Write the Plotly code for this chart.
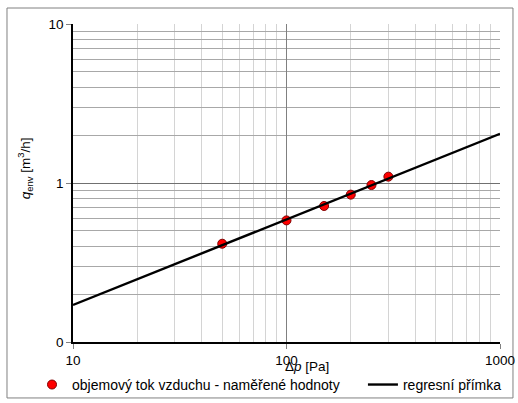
import numpy as np
import plotly.graph_objects as go

# Measured airflow through the building envelope vs. pressure difference
dp_measured = [50, 100, 150, 200, 250, 300]            # Δp [Pa]
q_measured = [0.415, 0.582, 0.717, 0.845, 0.971, 1.096]  # q_env [m3/h]

# Power-law regression q = C * Δp^n, fitted in log-log space
dp_line = [10, 1000]
n_exp, log_c = np.polyfit(np.log10(dp_measured), np.log10(q_measured), 1)
q_line = [10 ** (log_c + n_exp * np.log10(v)) for v in dp_line]

x_ticks = [10, 100, 1000]
x_tick_text = ["10", "100", "1000"]
y_ticks = [0.1, 1, 10]
y_tick_text = ["0", "1", "10"]
x_minor = [20, 30, 40, 50, 60, 70, 80, 90, 200, 300, 400, 500, 600, 700, 800, 900]
y_minor = [0.2, 0.3, 0.4, 0.5, 0.6, 0.7, 0.8, 0.9, 2, 3, 4, 5, 6, 7, 8, 9]

FONT = "Liberation Sans, Arial, sans-serif"

fig = go.Figure()
fig.add_trace(go.Scatter(
    x=dp_measured, y=q_measured, mode="markers",
    name="objemový tok vzduchu - naměřené hodnoty",
    marker=dict(color="#FF0000", size=9, line=dict(color="#800000", width=1)),
    hoverinfo="skip", legend="legend",
))
fig.add_trace(go.Scatter(
    x=dp_line, y=q_line, mode="lines",
    name="regresní přímka",
    line=dict(color="#000000", width=2.4),
    hoverinfo="skip", legend="legend2",
))

legend_common = dict(
    orientation="h", yanchor="middle", xanchor="left",
    xref="paper", yref="paper", y=-0.135,
    font=dict(family=FONT, size=14), bgcolor="rgba(0,0,0,0)",
)

fig.update_layout(
    width=518, height=403,
    margin=dict(l=73, r=18, t=24, b=61, autoexpand=False),
    paper_bgcolor="white", plot_bgcolor="white",
    font=dict(family=FONT, size=12, color="#000000"),
    showlegend=True,
    legend=dict(x=-0.096, **legend_common),
    legend2=dict(x=0.679, **legend_common),
    xaxis=dict(
        type="log", range=[1, 3],
        tickvals=x_ticks, ticktext=x_tick_text,
        ticks="outside", ticklen=5, tickcolor="#808080",
        showline=True, linecolor="#000000", linewidth=1.5,
        showgrid=True, gridcolor="#808080", gridwidth=1,
        minor=dict(tickvals=x_minor, showgrid=True, gridcolor="#d4d4d4", gridwidth=1, ticks=""),
        zeroline=False,
        tickfont=dict(size=13.5),
    ),
    yaxis=dict(
        type="log", range=[-1, 1],
        tickvals=y_ticks, ticktext=y_tick_text,
        ticks="outside", ticklen=5, tickcolor="#808080",
        showline=True, linecolor="#000000", linewidth=1.5,
        showgrid=True, gridcolor="#707070", gridwidth=1,
        minor=dict(tickvals=y_minor, showgrid=True, gridcolor="#a8a8a8", gridwidth=1, ticks=""),
        zeroline=False,
        tickfont=dict(size=13.5),
    ),
)

# Axis titles
fig.add_annotation(
    text="<i>q</i><sub>env</sub> [m<sup>3</sup>/h]", textangle=-90,
    xref="paper", yref="paper", x=-0.112, y=0.547,
    xanchor="center", yanchor="middle",
    showarrow=False, font=dict(family=FONT, size=13.5),
)
fig.add_annotation(
    text="Δ<i>p</i> [Pa]",
    xref="paper", yref="paper", x=0.548, y=-0.078,
    xanchor="center", yanchor="middle",
    showarrow=False, font=dict(family=FONT, size=13.5),
)

# Chart-area frame
fig.add_shape(
    type="rect", xref="paper", yref="paper",
    x0=-0.1546, x1=1.0304, y0=-0.176, y1=1.0503,
    line=dict(color="#808080", width=1), fillcolor="rgba(0,0,0,0)", layer="below",
)

fig.write_html("out.html")
